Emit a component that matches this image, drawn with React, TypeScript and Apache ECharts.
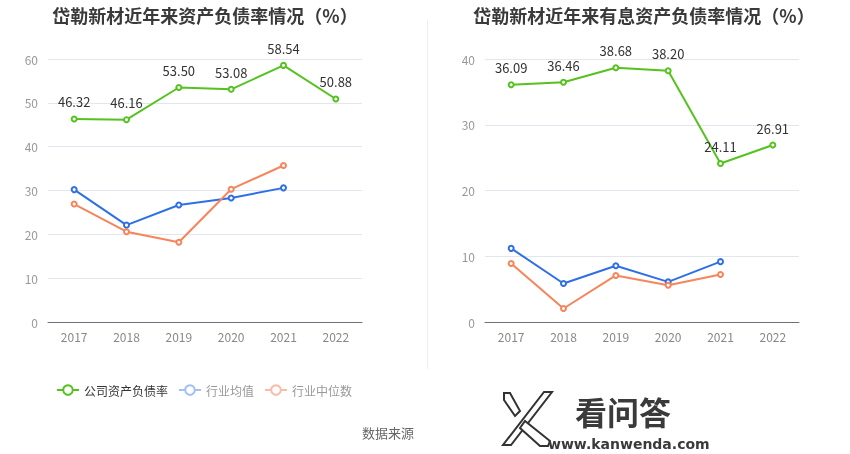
import React, { useEffect, useRef } from "react";
import * as echarts from "echarts";

const years = ["2017", "2018", "2019", "2020", "2021", "2022"];
const leftCompany = [46.32, 46.16, 53.5, 53.08, 58.54, 50.88];
const leftAvg = [30.2, 22.1, 26.7, 28.3, 30.6];
const leftMedian = [26.9, 20.6, 18.2, 30.3, 35.7];
const rightCompany = [36.09, 36.46, 38.68, 38.2, 24.11, 26.91];
const rightAvg = [11.2, 5.85, 8.56, 6.1, 9.18];
const rightMedian = [8.9, 2.05, 7.08, 5.6, 7.23];
const seriesNames = ["公司资产负债率", "行业均值", "行业中位数"];
const titles = ["岱勒新材近年来资产负债率情况（%）", "岱勒新材近年来有息资产负债率情况（%）"];

const GREEN = "#55c21f";
const BLUE = "#2f6fe6";
const ORANGE = "#f7845a";

export default function App() {
  const ref = useRef<HTMLDivElement>(null);
  useEffect(() => {
    if (!ref.current) return;
    const chart = echarts.init(ref.current, undefined, { renderer: "svg" });
    const makeSeries = (idx: number, data: number[], name: string, color: string, label: boolean) => ({
      type: "line",
      name,
      xAxisIndex: idx,
      yAxisIndex: idx,
      data,
      symbol: "emptyCircle",
      symbolSize: 5,
      lineStyle: { color, width: 2 },
      itemStyle: { color, borderWidth: 1.5 },
      label: label
        ? {
            show: true,
            position: "top",
            distance: 7,
            color: "#333",
            fontSize: 13,
            fontFamily: "Noto Sans CJK SC",
            formatter: (p: any) => Number(p.value).toFixed(2),
          }
        : { show: false },
      emphasis: { disabled: true },
    });
    const xAxis = (gi: number) => ({
      type: "category",
      gridIndex: gi,
      data: years,
      boundaryGap: true,
      axisLine: { lineStyle: { color: "#6e7079" } },
      axisTick: { alignWithLabel: true, length: 5, lineStyle: { color: "#6e7079" } },
      axisLabel: { color: "#888", fontSize: 12, margin: 8, fontFamily: "Noto Sans CJK SC" },
    });
    const yAxis = (gi: number, max: number) => ({
      type: "value",
      gridIndex: gi,
      min: 0,
      max,
      interval: 10,
      axisLine: { show: false },
      axisTick: { show: false },
      splitLine: { lineStyle: { color: "#e3e6ee" } },
      axisLabel: { color: "#999", fontSize: 12, margin: 10, fontFamily: "Noto Sans CJK SC" },
    });
    const titleStyle = { fontSize: 18, fontWeight: "bold", color: "#3a3a3a", fontFamily: "Noto Sans CJK SC" };
    chart.setOption({
      animation: false,
      title: [
        { text: titles[0], left: 200, top: 1, textAlign: "center", textStyle: titleStyle },
        { text: titles[1], left: 639, top: 1, textAlign: "center", textStyle: titleStyle },
      ],
      legend: {
        left: 51,
        top: 379,
        itemWidth: 22,
        itemHeight: 12,
        itemGap: 10,
        textStyle: { fontSize: 12, fontFamily: "Noto Sans CJK SC", color: "#333" },
        data: [
          { name: seriesNames[0], textStyle: { color: "#333" } },
          {
            name: seriesNames[1],
            textStyle: { color: "#999" },
            itemStyle: { color: "#a3bff3", borderColor: "#a3bff3" },
            lineStyle: { color: "#a3bff3" },
          },
          {
            name: seriesNames[2],
            textStyle: { color: "#999" },
            itemStyle: { color: "#f9bca6", borderColor: "#f9bca6" },
            lineStyle: { color: "#f9bca6" },
          },
        ],
      },
      grid: [
        { left: 48, right: 488, top: 59, bottom: 132 },
        { left: 485, right: 51, top: 59, bottom: 132 },
      ],
      xAxis: [xAxis(0), xAxis(1)],
      yAxis: [yAxis(0, 60), yAxis(1, 40)],
      series: [
        makeSeries(0, leftCompany, seriesNames[0], GREEN, true),
        makeSeries(0, leftAvg, seriesNames[1], BLUE, false),
        makeSeries(0, leftMedian, seriesNames[2], ORANGE, false),
        makeSeries(1, rightCompany, seriesNames[0], GREEN, true),
        makeSeries(1, rightAvg, seriesNames[1], BLUE, false),
        makeSeries(1, rightMedian, seriesNames[2], ORANGE, false),
      ],
      graphic: [
        { type: "line", shape: { x1: 427.5, y1: 20, x2: 427.5, y2: 369 }, style: { stroke: "#eeeeee", lineWidth: 1 } },
        {
          type: "text",
          left: 362,
          top: 426,
          style: { text: "数据来源", fill: "#666", fontSize: 13, fontFamily: "Noto Sans CJK SC" },
        },
        {
          type: "polygon",
          shape: { points: [[504, 393], [510, 393], [520, 411], [515, 416], [504, 400]] },
          style: { fill: "#fff", stroke: "#333", lineWidth: 2 },
        },
        {
          type: "polygon",
          shape: { points: [[544, 392], [552, 392], [511, 445], [503, 445]] },
          style: { fill: "#fff", stroke: "#333", lineWidth: 2 },
        },
        {
          type: "polygon",
          shape: { points: [[520, 428], [525, 421], [550, 441], [548, 446], [540, 446]] },
          style: { fill: "#fff", stroke: "#333", lineWidth: 2 },
        },
        {
          type: "text",
          left: 575,
          top: 395,
          style: { text: "看问答", fill: "#3a3a3a", fontSize: 32, fontWeight: "bold", fontFamily: "Noto Sans CJK SC" },
        },
        {
          type: "text",
          left: 548,
          top: 437,
          style: { text: "www.kanwenda.com", fill: "#3a3a3a", fontSize: 14, fontWeight: "bold", fontFamily: "DejaVu Sans" },
        },
      ],
    });
    return () => chart.dispose();
  }, []);
  return <div ref={ref} style={{ position: "fixed", left: 0, top: 0, width: 850, height: 454 }} />;
}
